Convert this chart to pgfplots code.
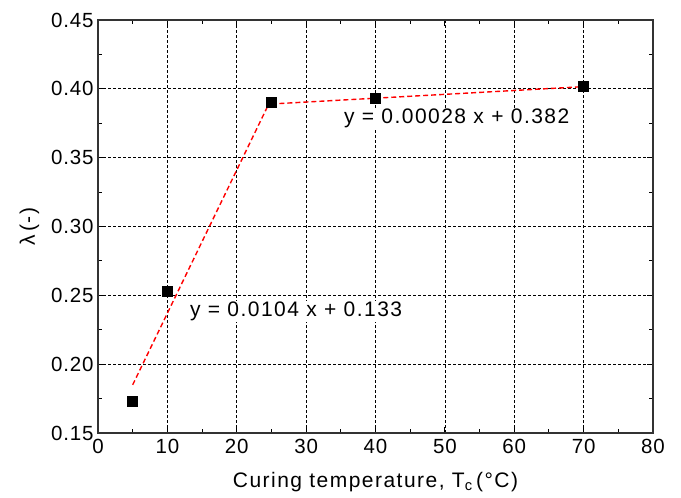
\documentclass[border=0pt]{standalone}
\usepackage{fontspec}
\setmainfont{Liberation Sans}
\newfontfamily\tickfont[LetterSpace=4]{Liberation Sans}
\newfontfamily\labfont[LetterSpace=7]{Liberation Sans}
\usepackage{pgfplots}
\pgfplotsset{compat=1.18}

\begin{document}
\begin{tikzpicture}[x=1pt,y=1pt]
\begin{axis}[
  name=ax,
  at={(0,0)}, anchor=south west,
  scale only axis,
  width=555pt, height=413pt,
  xmin=0, xmax=80, ymin=0.15, ymax=0.45,
  xtick={0,10,...,80},
  ytick={0.15,0.20,...,0.45},
  minor x tick num=1, minor y tick num=1,
  tick align=inside,
  major tick length=6pt, minor tick length=4pt,
  every tick/.style={black, line width=0.9pt},
  axis line style={line width=1.2pt, black!80},
  grid=major,
  major grid style={black, dash pattern=on 3pt off 2pt, line width=0.7pt},
  /pgf/number format/assume math mode=true,
  yticklabel style={/pgf/number format/fixed, /pgf/number format/fixed zerofill, /pgf/number format/precision=2},
  ticklabel style={font=\tickfont\fontsize{20.5}{24}\selectfont},
  xticklabel style={yshift=-3pt},
  yticklabel style={xshift=-1pt},
  label style={font=\labfont\fontsize{21}{24}\selectfont},
  xlabel={Curing temperature, T\textsubscript{c}\,(°C)},
  ylabel={λ\,(-)},
  xlabel style={yshift=-11pt},
  ylabel style={yshift=5pt},
  clip=false,
]
% measured values
\addplot[only marks, mark=square*, mark size=5pt, mark options={fill=black, draw=black}]
  coordinates {(5,0.173) (10,0.253) (25,0.390) (40,0.393) (70,0.402)};
% linear fits of the two regimes
\addplot[red, dash pattern=on 5pt off 3pt, line width=1.4pt]
  coordinates {(5,0.185) (25,0.393)};
\addplot[red, dash pattern=on 5pt off 3pt, line width=1.4pt]
  coordinates {(25,0.389) (70,0.4016)};
\node[anchor=west, font=\labfont\fontsize{21}{24}\selectfont, fill=white, inner sep=1pt] at (axis cs:13.1,0.2384) {y = 0.0104 x + 0.133};
\node[anchor=west, font=\labfont\fontsize{21}{24}\selectfont, fill=white, inner sep=1pt] at (axis cs:35.3,0.3787) {y = 0.00028 x + 0.382};
\end{axis}
\path (ax.south west) ++(-98pt,-64pt) coordinate (bl);
\path (ax.north east) ++(28pt,20pt) coordinate (tr);
\path[use as bounding box] (bl) rectangle (tr);
\end{tikzpicture}
\end{document}
